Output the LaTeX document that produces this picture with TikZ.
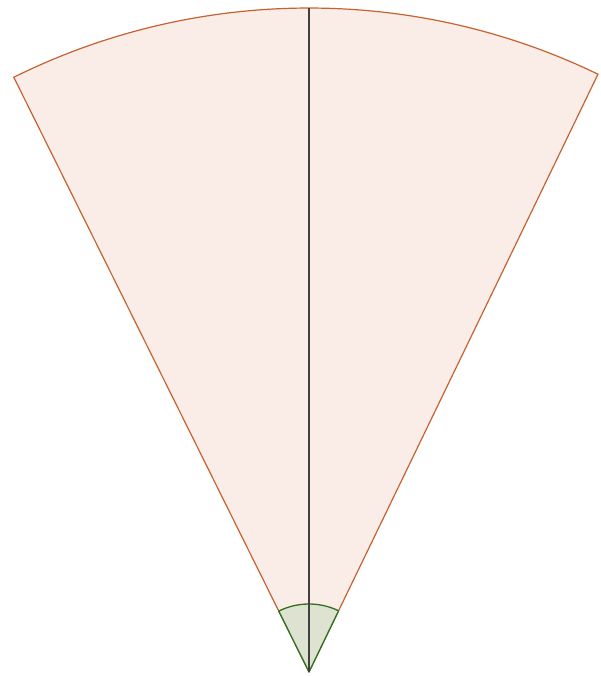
\documentclass[tikz,border=0pt]{standalone}
\usepackage{tikz}
\usetikzlibrary{calc}

\definecolor{sectorfill}{RGB}{250,237,232}
\definecolor{sectoredge}{RGB}{198,98,48}
\definecolor{anglefill}{RGB}{222,226,208}
\definecolor{angleedge}{RGB}{46,112,30}

\begin{document}
\begin{tikzpicture}[
    x=1pt, y=1pt,
    sector/.style={draw=sectoredge, fill=sectorfill, line width=1.2pt, line join=round},
    axisline/.style={draw=black!75, line width=1.1pt},
    anglemark/.style={draw=angleedge, fill=anglefill, line width=1.3pt, line join=round}
]
\useasboundingbox (0,0) rectangle (601,676);
\coordinate (O) at (309,4);
\coordinate (A) at ($(O)+(116.4:664)$);
\coordinate (B) at ($(O)+(64.2:664)$);
\coordinate (T) at ($(O)+(90:664)$);
% the sector
\draw[sector] (O) -- (A) arc[start angle=116.4, end angle=64.2, radius=664] -- cycle;
% angle mark at the apex
\draw[anglemark] (O) -- ++(116.4:68) arc[start angle=116.4, end angle=64.2, radius=68] -- cycle;
% symmetry line
\draw[axisline] (O) -- (T);
\end{tikzpicture}
\end{document}
